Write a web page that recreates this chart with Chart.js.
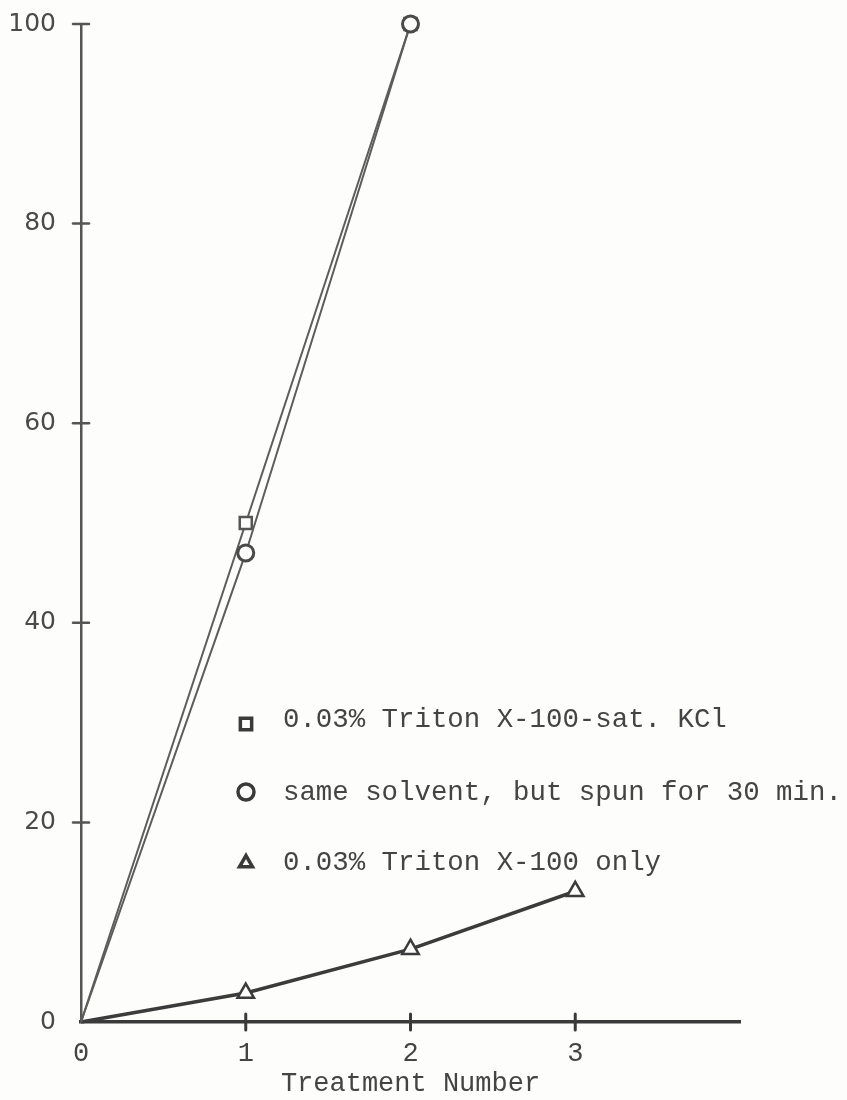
<!DOCTYPE html>
<html>
<head>
<meta charset="utf-8">
<script src="https://cdn.jsdelivr.net/npm/chart.js@4.4.1/dist/chart.umd.min.js"></script>
<style>
  html, body { margin: 0; padding: 0; background: #fdfdfc; }
  #wrap { width: 847px; height: 1100px; position: relative; }
</style>
</head>
<body>
<div id="wrap"><canvas id="chart"></canvas></div>
<script>
// Values
const treatments = [0, 1, 2];
const kclSat = [0, 50, 100];          // 0.03% Triton X-100-sat. KCl
const kclSatSpun = [0, 47, 100];      // same solvent, spun 30 min
const tritonTreatments = [0, 1, 2, 3];
const tritonOnly = [0, 2.9, 7.3, 13.1];

const yTicks = [0, 20, 40, 60, 80, 100];
const xTicks = [0, 1, 2, 3];

const labels = [
  '0.03% Triton X-100-sat. KCl',
  'same solvent, but spun for 30 min.',
  '0.03% Triton X-100 only'
];

const ink = '#444';
const monoFont = '"Liberation Mono", "DejaVu Sans Mono", monospace';

function toPoints(xs, ys) {
  return xs.map((x, i) => ({ x: x, y: ys[i] }));
}

// hide the marker sitting on the origin
const markerAtOrigin = r => ctx => ctx.dataIndex === 0 ? 0 : r;

// tick marks that cross the axis line, like the hand-drawn original
const crossTicks = {
  id: 'crossTicks',
  afterDatasetsDraw(chart) {
    const { ctx, scales: { x, y } } = chart;
    ctx.save();
    ctx.lineCap = 'round';
    ctx.strokeStyle = '#555';
    ctx.lineWidth = 2.5;
    const ax = x.getPixelForValue(0);
    yTicks.forEach(v => {
      if (v === 0) return;
      const py = y.getPixelForValue(v);
      ctx.beginPath();
      ctx.moveTo(ax - 8, py);
      ctx.lineTo(ax + 8, py);
      ctx.stroke();
    });
    ctx.strokeStyle = '#3a3a3a';
    ctx.lineWidth = 3;
    const ay = y.getPixelForValue(0);
    xTicks.forEach(v => {
      if (v === 0) return;
      const px = x.getPixelForValue(v);
      ctx.beginPath();
      ctx.moveTo(px, ay - 8);
      ctx.lineTo(px, ay + 8);
      ctx.stroke();
    });
    ctx.restore();
  }
};

// key written inside the plot area, as on the typed sheet
const innerKey = {
  id: 'innerKey',
  afterDraw(chart) {
    const { ctx } = chart;
    const rows = [
      { style: 'rect', r: 8, lw: 3.5, my: 724, base: 727 },
      { style: 'circle', r: 8, lw: 3.5, my: 792, base: 800 },
      { style: 'triangle', r: 7.5, lw: 3.5, my: 863, base: 870 }
    ];
    ctx.save();
    rows.forEach((row, i) => {
      ctx.strokeStyle = '#3a3a3a';
      ctx.fillStyle = '#fdfdfc';
      ctx.lineWidth = row.lw;
      Chart.helpers.drawPoint(ctx, { pointStyle: row.style, radius: row.r, rotation: 0, borderWidth: row.lw }, 246, row.my);
      ctx.fillStyle = ink;
      ctx.font = '27.4px ' + monoFont;
      ctx.textBaseline = 'alphabetic';
      ctx.textAlign = 'left';
      ctx.fillText(labels[i], 283, row.base);
    });
    ctx.restore();
  }
};

new Chart(document.getElementById('chart'), {
  type: 'line',
  data: {
    datasets: [
      {
        label: labels[0],
        data: toPoints(treatments, kclSat),
        borderColor: '#5c5c5c',
        borderWidth: 2,
        pointStyle: 'rect',
        pointRadius: markerAtOrigin(8.5),
        pointBorderWidth: 2.5,
        pointBorderColor: '#555',
        pointBackgroundColor: '#fdfdfc',
        clip: false,
        order: 1
      },
      {
        label: labels[1],
        data: toPoints(treatments, kclSatSpun),
        borderColor: '#5c5c5c',
        borderWidth: 2,
        pointStyle: 'circle',
        pointRadius: markerAtOrigin(8),
        pointBorderWidth: 3,
        pointBorderColor: '#4a4a4a',
        pointBackgroundColor: '#fdfdfc',
        clip: false,
        order: 0
      },
      {
        label: labels[2],
        data: toPoints(tritonTreatments, tritonOnly),
        borderColor: '#3b3b3b',
        borderWidth: 3.5,
        pointStyle: 'triangle',
        pointRadius: markerAtOrigin(9.5),
        pointBorderWidth: 2.5,
        pointBorderColor: '#3b3b3b',
        pointBackgroundColor: '#fdfdfc',
        clip: false,
        order: 2
      }
    ]
  },
  options: {
    responsive: true,
    maintainAspectRatio: false,
    animation: false,
    events: [],
    layout: { padding: { top: 24, right: 107, left: 0, bottom: 0 } },
    plugins: {
      legend: { display: false },
      tooltip: { enabled: false }
    },
    scales: {
      x: {
        type: 'linear',
        min: 0,
        max: 4,
        afterBuildTicks: scale => {
          scale.ticks = xTicks.map(v => ({ value: v }));
        },
        afterFit: scale => {
          scale.height = 78;
          scale.paddingLeft = 0;
          scale.paddingRight = 0;
        },
        grid: { display: false },
        border: { display: true, color: '#3a3a3a', width: 3.5 },
        ticks: {
          padding: 8,
          color: ink,
          font: { family: monoFont, size: 27 }
        },
        title: {
          display: true,
          text: 'Treatment Number',
          color: ink,
          padding: { top: 0, bottom: 0 },
          font: { family: monoFont, size: 27 }
        }
      },
      y: {
        min: 0,
        max: 100,
        afterBuildTicks: scale => {
          scale.ticks = yTicks.map(v => ({ value: v }));
        },
        afterFit: scale => {
          scale.width = 81;
          scale.paddingTop = 0;
          scale.paddingBottom = 0;
        },
        grid: { display: false },
        border: { display: true, color: '#555', width: 2.5 },
        ticks: {
          padding: 17,
          color: '#4a4a4a',
          font: { family: '"DejaVu Sans", sans-serif', size: 25 }
        }
      }
    }
  },
  plugins: [crossTicks, innerKey]
});
</script>
</body>
</html>
